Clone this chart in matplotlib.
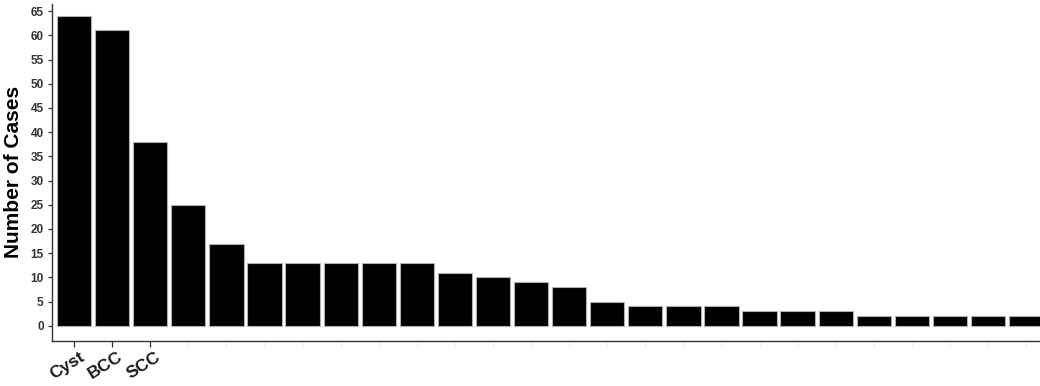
import matplotlib.pyplot as plt
from matplotlib.transforms import ScaledTranslation

# case counts per diagnosis, sorted from most to least frequent
labels = ['Cyst', 'BCC', 'SCC'] + [''] * 23
cases = [64, 61, 38, 25, 17, 13, 13, 13, 13, 13, 11, 10, 9, 8, 5,
         4, 4, 4, 3, 3, 3, 2, 2, 2, 2, 2]
yticks = list(range(0, 70, 5))

plt.rcParams['font.family'] = ['Liberation Sans', 'DejaVu Sans']

fig = plt.figure(figsize=(10.4, 3.86), dpi=100)
ax = fig.add_axes([0.05, 0.117, 0.952, 0.873])

pos = list(range(len(cases)))
ax.bar(pos, cases, width=0.9, color='black', edgecolor='#b0b0b0', linewidth=0.8)

ax.set_xlim(-0.58, 25.42)
ax.set_ylim(-3.1, 66.5)
ax.set_yticks(yticks)
ax.set_yticklabels([str(v) for v in yticks], fontsize=8.5, fontweight='bold', color='#333333')
ax.set_xticks(pos)
ax.set_xticklabels(labels, rotation=32, ha='right', rotation_mode='anchor',
                   fontsize=12.5, fontweight='bold', color='#1a1a1a')

ax.tick_params(axis='x', length=4, width=0.9, pad=2)
ax.tick_params(axis='y', length=3, width=0.9, color='#333333', pad=3)
# only the named categories get a visible tick
for i, t in enumerate(ax.xaxis.get_major_ticks()):
    t.tick1line.set_markeredgecolor('#333333' if i < 3 else '#f0f0f0')

# nudge the slanted labels so their ends sit just past the tick
shift = ScaledTranslation(5 / 100, 0, fig.dpi_scale_trans)
for lab in ax.get_xticklabels():
    lab.set_transform(lab.get_transform() + shift)

for side in ['top', 'right']:
    ax.spines[side].set_visible(False)
for side in ['left', 'bottom']:
    ax.spines[side].set_linewidth(1.0)
    ax.spines[side].set_color('#333333')

ax.set_ylabel('Number of Cases', fontsize=15, fontweight='bold', labelpad=5)

fig.savefig('out.png', dpi=100)
